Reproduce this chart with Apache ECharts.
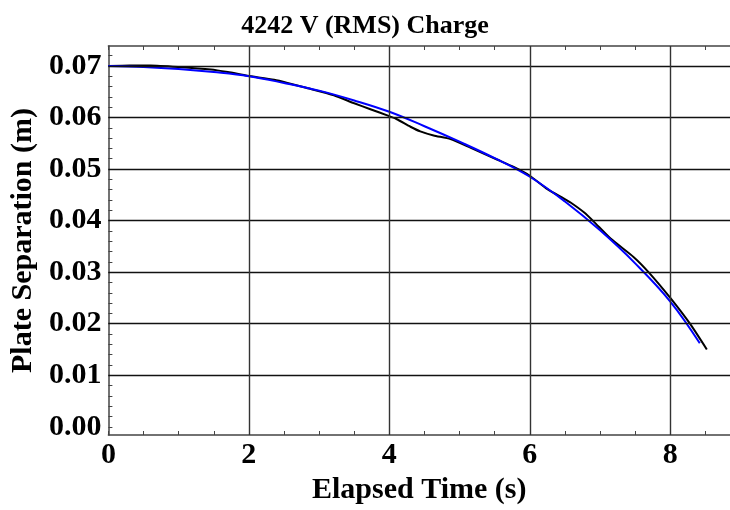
<!DOCTYPE html>
<html><head><meta charset="utf-8">
<script src="https://cdn.jsdelivr.net/npm/echarts@6/dist/echarts.min.js"></script>
<style>html,body{margin:0;padding:0;background:#fff}#c{width:730px;height:510px}</style>
</head><body><div id="c"></div>
<script>
const titleText = '4242 V (RMS) Charge';
const xName = 'Elapsed Time (s)';
const yName = 'Plate Separation (m)';
const xTicks = [0, 2, 4, 6, 8];
const yTicks = [0.00, 0.01, 0.02, 0.03, 0.04, 0.05, 0.06, 0.07];
const xMinor = [0,0.5,1,1.5,2,2.5,3,3.5,4,4.5,5,5.5,6,6.5,7,7.5,8,8.5];
const yMinor = [0,0.002,0.004,0.006,0.008,0.01,0.012,0.014,0.016,0.018,0.02,0.022,0.024,0.026,0.028,0.03,0.032,0.034,0.036,0.038,0.04,0.042,0.044,0.046,0.048,0.05,0.052,0.054,0.056,0.058,0.06,0.062,0.064,0.066,0.068,0.07,0.072];
const xGrid = [2, 4, 6, 8];
const yGrid = [0.01, 0.02, 0.03, 0.04, 0.05, 0.06, 0.07];

const measuredT = [0.0,0.3,0.6,1.0,1.46,1.7,1.98,2.36,2.55,2.8,3.21,3.49,3.73,3.97,4.1,4.3,4.44,4.63,4.87,5.16,5.54,5.77,6.0,6.25,6.48,6.58,6.77,6.91,7.15,7.48,7.69,8.0,8.28,8.52];
const measuredD = [0.0700,0.0701,0.0701,0.0698,0.0693,0.0688,0.0681,0.0673,0.0667,0.0658,0.0643,0.0628,0.0616,0.0604,0.0597,0.0582,0.0573,0.0565,0.0558,0.0541,0.0518,0.0504,0.0487,0.0461,0.0443,0.0435,0.0416,0.0398,0.0365,0.0329,0.0300,0.0250,0.0200,0.0150];
const fitT = [0,0.5,1,1.5,2,2.5,3,3.5,4,4.5,5,5.5,6,6.5,7,7.5,8,8.42];
const fitD = [0.0700,0.0698,0.0694,0.0688,0.0680,0.0667,0.0652,0.0633,0.0611,0.0583,0.0553,0.0521,0.0485,0.0437,0.0381,0.0317,0.0243,0.0162];

const FONT = 'Liberation Serif';
const axisCol = '#444';
const chart = echarts.init(document.getElementById('c'), null, {renderer: 'canvas'});
const zip = (a, b) => a.map((v, i) => [v, b[i]]);
chart.setOption({
  animation: false,
  backgroundColor: '#fff',
  title: {text: titleText, left: 'center', top: 8,
    textStyle: {fontFamily: FONT, fontWeight: 'bold', fontSize: 26, color: '#000'}},
  grid: {left: 107, right: 0, top: 46, bottom: 73},
  xAxis: [
    {type: 'value', position: 'bottom', min: 0, max: 8.85,
     name: xName, nameLocation: 'middle', nameGap: 40,
     nameTextStyle: {fontFamily: FONT, fontWeight: 'bold', fontSize: 30, color: '#000'},
     axisLine: {show: true, onZero: false, lineStyle: {color: axisCol, width: 1.5}},
     axisTick: {show: true, inside: true, length: 4, customValues: xMinor, lineStyle: {color: axisCol, width: 1}},
     axisLabel: {customValues: xTicks, margin: 5, fontFamily: FONT, fontWeight: 'bold', fontSize: 30, color: '#000'},
     splitLine: {show: false}},
    {type: 'value', position: 'top', min: 0, max: 8.85,
     axisLine: {show: true, onZero: false, lineStyle: {color: axisCol, width: 1.5}},
     axisTick: {show: true, inside: true, length: 4, customValues: xMinor, lineStyle: {color: axisCol, width: 1}},
     axisLabel: {show: false}, splitLine: {show: false}}
  ],
  yAxis: [
    {type: 'value', position: 'left', min: -0.00159, max: 0.07386,
     name: yName, nameLocation: 'middle', nameGap: 70, nameRotate: 90,
     nameTextStyle: {fontFamily: FONT, fontWeight: 'bold', fontSize: 30, color: '#000'},
     axisLine: {show: true, onZero: false, lineStyle: {color: axisCol, width: 1.5}},
     axisTick: {show: true, inside: true, length: 4, customValues: yMinor, lineStyle: {color: axisCol, width: 1}},
     axisLabel: {customValues: yTicks, margin: 7, formatter: v => v.toFixed(2),
       fontFamily: FONT, fontWeight: 'bold', fontSize: 30, color: '#000'},
     splitLine: {show: false}}
  ],
  series: [
    {type: 'line', data: [], z: 1, silent: true,
     markLine: {silent: true, symbol: 'none', label: {show: false}, animation: false,
       lineStyle: {type: 'solid', color: '#111', width: 1.3},
       data: yGrid.map(v => ({yAxis: v})).concat(xGrid.map(v => ({xAxis: v, lineStyle: {color: '#333', width: 1.4}})))}},
    {type: 'line', data: zip(measuredT, measuredD), showSymbol: false, smooth: 0.2, z: 3,
     lineStyle: {color: '#000', width: 2}},
    {type: 'line', data: zip(fitT, fitD), showSymbol: false, smooth: 0.4, z: 4,
     lineStyle: {color: '#0000ff', width: 2}}
  ]
});
</script></body></html>
